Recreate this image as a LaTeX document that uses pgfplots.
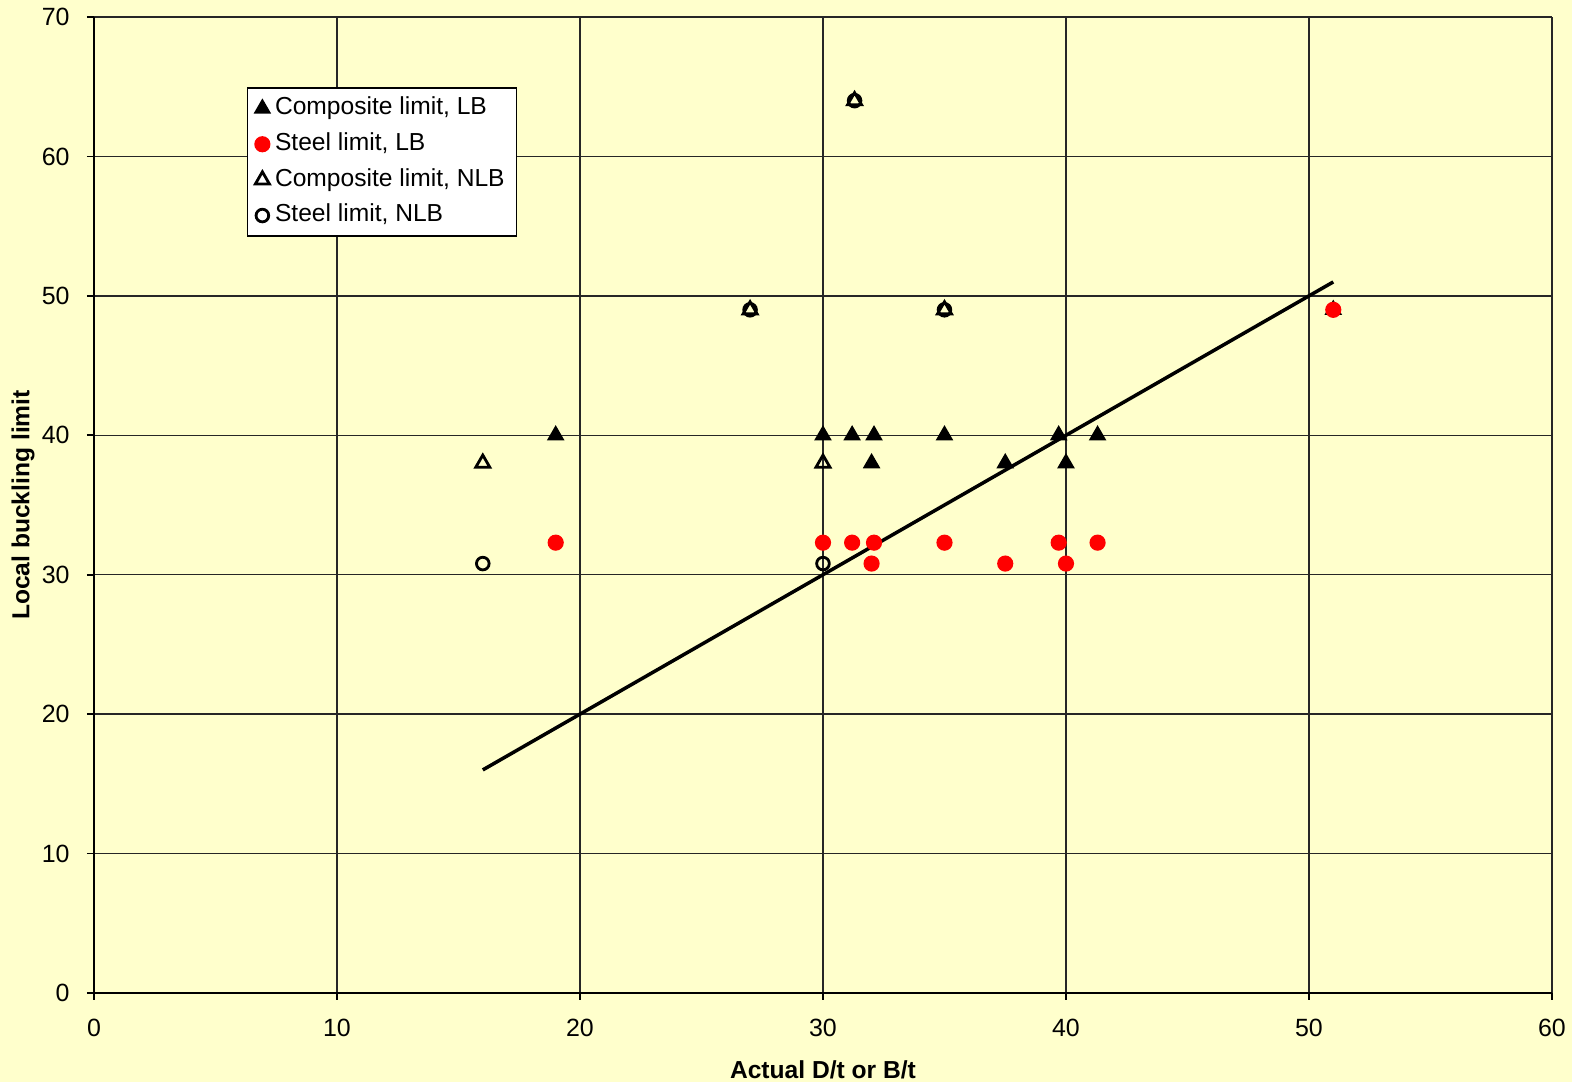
\documentclass[border=0pt]{standalone}
\usepackage{pgfplots}
\pgfplotsset{compat=1.18}
\usepackage{fontspec}
\setmainfont{Liberation Sans}
\definecolor{bgy}{HTML}{FFFFCC}
\definecolor{redm}{HTML}{FF0000}
\begin{document}
\begin{tikzpicture}[x=1cm,y=1cm]
\fill[bgy] (-0.94,-0.89) rectangle (14.78,9.93);
\useasboundingbox (-0.94,-0.89) rectangle (14.78,9.93);
\begin{axis}[
  at={(0,0)}, anchor=south west,
  scale only axis, width=14.58cm, height=9.76cm,
  xmin=0, xmax=60, ymin=0, ymax=70,
  xtick={0,10,...,60}, ytick={0,10,...,70},
  axis background/.style={fill=bgy},
  axis x line*=bottom, axis y line*=left,
  axis line style={black, line width=0.5pt},
  tick style={black, line width=0.5pt},
  tick align=outside, major tick length=0.07cm,
  grid=major, major grid style={black!85, line width=0.4pt},
  /pgf/number format/assume math mode=true,
  ticklabel style={font=\fontsize{7.1}{8.5}\selectfont},
  xticklabel style={yshift=-0.07cm},
  yticklabel style={xshift=-0.05cm},
  xlabel={\textbf{Actual D/t or B/t}},
  ylabel={\textbf{Local buckling limit}},
  label style={font=\fontsize{7}{8.5}\selectfont},
  xlabel style={at={(axis description cs:0.5,0)}, anchor=center, yshift=-0.77cm},
  ylabel style={at={(axis description cs:0,0.5)}, anchor=center, yshift=0.71cm},
  legend style={at={(rel axis cs:0.105,0.928)}, anchor=north west,
    draw=black, fill=white, line width=0.4pt,
    font=\fontsize{7}{8.5}\selectfont, row sep=-0.015cm,
    inner xsep=0.07cm, inner ysep=0.02cm,
    nodes={inner xsep=0.05cm}},
  legend cell align=left,
  legend image code/.code={\draw[mark repeat=2,mark phase=2] plot coordinates {(0cm,0cm) (0.09cm,0cm) (0.18cm,0cm)};},
]
\addplot[black, line width=1pt, no marks, forget plot] coordinates {(16,16) (51,51)};
\addplot[only marks, mark=triangle*, mark size=2.5pt, black, fill=black] coordinates {
(19,40) (30,40) (31.2,40) (32.1,40) (32,38) (35,40) (37.5,38) (39.7,40) (40,38) (41.3,40) (51,49)
};
\addlegendentry{Composite limit, LB}
\addplot[only marks, mark=*, mark size=2.1pt, redm, draw=redm, fill=redm] coordinates {
(19,32.3) (30,32.3) (31.2,32.3) (32.1,32.3) (32,30.8) (35,32.3) (37.5,30.8) (39.7,32.3) (40,30.8) (41.3,32.3) (51,49)
};
\addlegendentry{Steel limit, LB}
\addplot[only marks, mark=triangle, mark size=2.3pt, black, line width=0.8pt] coordinates {
(16,38) (30,38) (27,49) (31.3,64) (35,49)
};
\addlegendentry{Composite limit, NLB}
\addplot[only marks, mark=o, mark size=1.8pt, black, line width=0.8pt] coordinates {
(16,30.8) (30,30.8) (27,49) (31.3,64) (35,49)
};
\addlegendentry{Steel limit, NLB}
\end{axis}
\end{tikzpicture}
\end{document}
